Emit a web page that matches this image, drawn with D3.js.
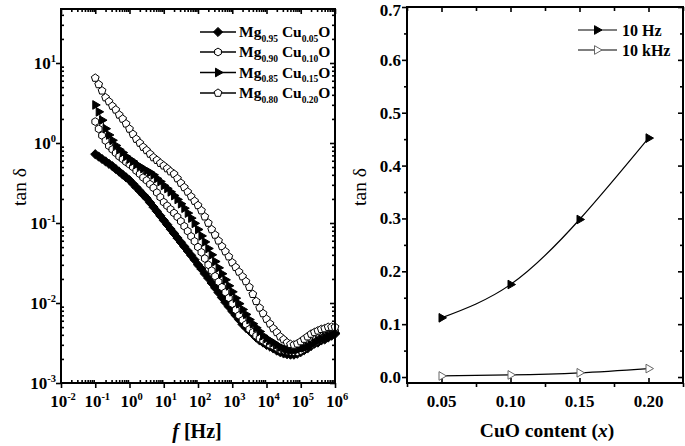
<!DOCTYPE html>
<html><head><meta charset="utf-8">
<script src="https://cdn.jsdelivr.net/npm/d3@7"></script>
<style>body{margin:0;background:#fff}svg{display:block}text{font-family:"Liberation Serif","Times New Roman",serif;fill:#000}</style>
</head><body><svg id="c" width="685" height="446"></svg>
<script>
// ---------- DATA ----------
const freqHz = [0.1,0.126,0.158,0.2,0.251,0.316,0.398,0.501,0.631,0.794,
 1,1.26,1.58,2,2.51,3.16,3.98,5.01,6.31,7.94,
 10,12.6,15.8,20,25.1,31.6,39.8,50.1,63.1,79.4,
 100,126,158,200,251,316,398,501,631,794,
 1e3,1.26e3,1.58e3,2e3,2.51e3,3.16e3,3.98e3,5.01e3,6.31e3,7.94e3,
 1e4,1.26e4,1.58e4,2e4,2.51e4,3.16e4,3.98e4,5.01e4,6.31e4,7.94e4,
 1e5,1.26e5,1.58e5,2e5,2.51e5,3.16e5,3.98e5,5.01e5,6.31e5,7.94e5,
 1e6];
const tanMg095 = [0.724,0.676,0.631,0.589,0.550,0.513,0.473,0.437,0.403,0.372,
 0.343,0.309,0.279,0.251,0.226,0.204,0.180,0.158,0.140,0.123,
 0.108,0.0955,0.084,0.074,0.065,0.0575,0.0507,0.0447,0.0394,0.0347,
 0.030,0.0266,0.0232,0.0204,0.0178,0.0155,0.0135,0.0117,0.0102,0.0090,
 0.0079,0.0070,0.0062,0.0054,0.0049,0.0045,0.0041,0.0037,0.0034,0.0032,
 0.0030,0.00285,0.0027,0.00254,0.00243,0.00234,0.00229,0.00226,0.00226,0.00232,
 0.00243,0.00257,0.0027,0.0029,0.0031,0.0032,0.0034,0.0035,0.0037,0.0039,
 0.0041];
const tanMg090 = [1.85,1.50,1.24,1.07,0.92,0.83,0.75,0.68,0.63,0.58,
 0.54,0.50,0.45,0.41,0.37,0.34,0.305,0.275,0.24,0.21,
 0.182,0.164,0.148,0.133,0.119,0.105,0.091,0.079,0.068,0.059,
 0.050,0.043,0.036,0.030,0.0254,0.0216,0.0184,0.0158,0.0136,0.0116,
 0.0098,0.0082,0.0070,0.0061,0.0054,0.0047,0.0043,0.0039,0.0036,0.0034,
 0.0032,0.0030,0.0029,0.00275,0.0026,0.00257,0.0025,0.00248,0.00245,0.00245,
 0.00254,0.0027,0.0029,0.0030,0.0032,0.0034,0.0036,0.0038,0.0040,0.0042,
 0.0044];
const tanMg085 = [2.99,2.45,1.93,1.51,1.26,1.08,0.93,0.83,0.76,0.68,
 0.63,0.59,0.54,0.51,0.48,0.45,0.43,0.40,0.36,0.33,
 0.295,0.27,0.245,0.22,0.197,0.174,0.153,0.133,0.115,0.099,
 0.083,0.069,0.058,0.048,0.040,0.033,0.0275,0.0232,0.0195,0.0164,
 0.0138,0.0115,0.0098,0.0083,0.0072,0.0062,0.0055,0.0049,0.0044,0.0039,
 0.0036,0.0034,0.0032,0.0030,0.0028,0.0027,0.0026,0.00257,0.00257,0.0026,
 0.0027,0.00275,0.00285,0.0030,0.0032,0.0034,0.00355,0.0037,0.0039,0.0040,
 0.0042];
const tanMg080 = [6.5,5.4,4.5,3.7,3.3,2.9,2.6,2.25,2.0,1.74,
 1.5,1.29,1.12,1.0,0.89,0.81,0.73,0.66,0.61,0.56,
 0.52,0.48,0.44,0.41,0.36,0.316,0.279,0.245,0.214,0.188,
 0.166,0.143,0.120,0.100,0.083,0.071,0.060,0.051,0.044,0.038,
 0.032,0.028,0.0245,0.0214,0.0186,0.0158,0.0129,0.0105,0.0087,0.0074,
 0.0063,0.0055,0.0048,0.0043,0.0038,0.0035,0.0032,0.00305,0.0030,0.0031,
 0.0033,0.00355,0.0038,0.0041,0.0043,0.0045,0.0047,0.0048,0.0050,0.0050,
 0.0050];
const seriesSubs = [["0.95","0.05"],["0.90","0.10"],["0.85","0.15"],["0.80","0.20"]];
const freqTickExps = ["-2","-1","0","1","2","3","4","5","6"];
const tanTickExps = ["-3","-2","-1","0","1"];

const cuoContent = [0.05,0.10,0.15,0.20];
const tan10Hz = [0.112,0.175,0.298,0.452];
const tan10kHz = [0.002,0.004,0.008,0.016];
const rightYTicks = [0,0.1,0.2,0.3,0.4,0.5,0.6,0.7];
const rightXTicks = [0.05,0.10,0.15,0.20];
const rightLegend = ["10 Hz","10 kHz"];

// ---------- HELPERS ----------
const svg = d3.select("#c");
function poly(n, r, rot){
  const pts=[];
  for(let i=0;i<n;i++){const a=rot+i*2*Math.PI/n; pts.push([(r*Math.cos(a)).toFixed(2),(r*Math.sin(a)).toFixed(2)]);}
  return "M"+pts.map(p=>p.join(",")).join("L")+"Z";
}
const markers = [
  {d:poly(4,4.6,-Math.PI/2), fill:"#000", stroke:"#000"},
  {d:poly(6,3.9,-Math.PI/2), fill:"#fff", stroke:"#000"},
  {d:poly(3,5,0), fill:"#000", stroke:"#000"},
  {d:poly(5,4.1,-Math.PI/2), fill:"#fff", stroke:"#000"}
];
function styleAxis(g){
  g.select(".domain").remove();
  g.selectAll("text").remove();
  g.selectAll("line").attr("stroke","#000").attr("stroke-width",1.6);
}
function addAxis(gen, tx, ty){
  svg.append("g").attr("transform",`translate(${tx},${ty})`).call(gen).call(styleAxis);
}

// ---------- LEFT PANEL ----------
const L = {x0:61,x1:335,y0:9,y1:383};
const xL = d3.scaleLog().domain([1e-2,1e6]).range([L.x0,L.x1]);
const yL = d3.scaleLog().domain([1e-3, Math.pow(10,1+54/80)]).range([L.y1,L.y0]);
const xMajor = freqTickExps.map(e=>Math.pow(10,+e));
const yMajor = tanTickExps.map(e=>Math.pow(10,+e));
const xMinor=[], yMinor=[];
for(let d=-2; d<6; d++) for(let k=2;k<10;k++) xMinor.push(k*Math.pow(10,d));
for(let d=-3; d<2; d++) for(let k=2;k<10;k++){const v=k*Math.pow(10,d); if(v<yL.domain()[1]) yMinor.push(v);}

addAxis(d3.axisBottom(xL).tickValues(xMajor).tickSize(5).tickSizeOuter(0), 0, L.y1);
addAxis(d3.axisBottom(xL).tickValues(xMinor).tickSize(-3).tickSizeOuter(0), 0, L.y1);
addAxis(d3.axisTop(xL).tickValues(xMajor).tickSize(-5).tickSizeOuter(0), 0, L.y0);
addAxis(d3.axisTop(xL).tickValues(xMinor).tickSize(-3).tickSizeOuter(0), 0, L.y0);
addAxis(d3.axisLeft(yL).tickValues(yMajor).tickSize(5).tickSizeOuter(0), L.x0, 0);
addAxis(d3.axisLeft(yL).tickValues(yMinor).tickSize(-3).tickSizeOuter(0), L.x0, 0);
addAxis(d3.axisRight(yL).tickValues(yMajor).tickSize(-5).tickSizeOuter(0), L.x1, 0);
addAxis(d3.axisRight(yL).tickValues(yMinor).tickSize(-3).tickSizeOuter(0), L.x1, 0);

const leftSeries = [tanMg095, tanMg090, tanMg085, tanMg080];
const line = d3.line().x((d,i)=>xL(freqHz[i])).y(d=>yL(d));
leftSeries.forEach((vals,si)=>{
  const g = svg.append("g");
  g.append("path").attr("d",line(vals)).attr("fill","none").attr("stroke","#000").attr("stroke-width",1);
  g.selectAll("path.m").data(vals).enter().append("path").attr("class","m")
    .attr("transform",(d,i)=>`translate(${xL(freqHz[i])},${yL(d)})`)
    .attr("d",markers[si].d).attr("fill",markers[si].fill).attr("stroke",markers[si].stroke).attr("stroke-width",1);
});

svg.append("rect").attr("x",L.x0).attr("y",L.y0).attr("width",L.x1-L.x0).attr("height",L.y1-L.y0)
  .attr("fill","none").attr("stroke","#000").attr("stroke-width",2);

// tick labels
freqTickExps.forEach((e,i)=>{
  const t = svg.append("text").attr("x",xL(xMajor[i])+2).attr("y",407).attr("text-anchor","middle")
    .attr("font-weight","bold").attr("font-size",17);
  t.append("tspan").text("10");
  t.append("tspan").attr("dy",-7.5).attr("font-size",10.5).text(e);
});
tanTickExps.forEach((e,i)=>{
  const t = svg.append("text").attr("x",56).attr("y",yL(yMajor[i])+6).attr("text-anchor","end")
    .attr("font-weight","bold").attr("font-size",17);
  t.append("tspan").text("10");
  t.append("tspan").attr("dy",-7.5).attr("font-size",10.5).text(e);
});
// titles
svg.append("text").attr("transform","translate(26,187) rotate(-90)").attr("text-anchor","middle")
  .attr("font-size",19.5).text("tan δ");
{
  const t = svg.append("text").attr("x",197).attr("y",438).attr("text-anchor","middle")
    .attr("font-size",20).attr("font-weight","bold");
  t.append("tspan").attr("font-style","italic").text("f");
  t.append("tspan").text(" [Hz]");
}
// legend
const legY = [32,52,72.5,93];
seriesSubs.forEach((s,i)=>{
  const y = legY[i];
  svg.append("line").attr("x1",200).attr("x2",236).attr("y1",y).attr("y2",y).attr("stroke","#000").attr("stroke-width",1.6);
  svg.append("path").attr("transform",`translate(218,${y})`).attr("d",markers[i].d)
    .attr("fill",markers[i].fill).attr("stroke",markers[i].stroke).attr("stroke-width",1);
  const t = svg.append("text").attr("x",239).attr("y",y+5).attr("font-weight","bold").attr("font-size",15.5);
  t.append("tspan").text("Mg");
  t.append("tspan").attr("dy",4.5).attr("font-size",9.5).text(s[0]);
  t.append("tspan").attr("dy",-4.5).text(" Cu");
  t.append("tspan").attr("dy",4.5).attr("font-size",9.5).text(s[1]);
  t.append("tspan").attr("dy",-4.5).text("O");
});

// ---------- RIGHT PANEL ----------
const R = {x0:407,x1:683,y0:7,y1:383};
const xR = d3.scaleLinear().domain([0.025,0.225]).range([R.x0,R.x1]);
const yR = d3.scaleLinear().domain([-0.0113,0.7]).range([R.y1,R.y0]);
const xRMinor = [0.025,0.075,0.125,0.175,0.225];
const yRMinor = [0.05,0.15,0.25,0.35,0.45,0.55,0.65];

addAxis(d3.axisBottom(xR).tickValues(rightXTicks).tickSize(-5).tickSizeOuter(0), 0, R.y1);
addAxis(d3.axisBottom(xR).tickValues(xRMinor).tickSize(4).tickSizeOuter(0), 0, R.y1);
addAxis(d3.axisTop(xR).tickValues(rightXTicks).tickSize(-5).tickSizeOuter(0), 0, R.y0);
addAxis(d3.axisTop(xR).tickValues(xRMinor).tickSize(-4).tickSizeOuter(0), 0, R.y0);
addAxis(d3.axisLeft(yR).tickValues(rightYTicks).tickSize(5).tickSizeOuter(0), R.x0, 0);
addAxis(d3.axisLeft(yR).tickValues(yRMinor).tickSize(3).tickSizeOuter(0), R.x0, 0);
addAxis(d3.axisRight(yR).tickValues(rightYTicks).tickSize(-5).tickSizeOuter(0), R.x1, 0);
addAxis(d3.axisRight(yR).tickValues(yRMinor).tickSize(-3).tickSizeOuter(0), R.x1, 0);

const rLine = d3.line().curve(d3.curveNatural).x((d,i)=>xR(cuoContent[i])).y(d=>yR(d));
const triR = poly(3,5,0);
[[tan10Hz,"#000","#000"],[tan10kHz,"#fff","#666"]].forEach(([vals,fill,stroke])=>{
  svg.append("path").attr("d",rLine(vals)).attr("fill","none").attr("stroke","#000").attr("stroke-width",1.2);
  svg.selectAll(null).data(vals).enter().append("path")
    .attr("transform",(d,i)=>`translate(${xR(cuoContent[i])},${yR(d)})`)
    .attr("d",triR).attr("fill",fill).attr("stroke",stroke).attr("stroke-width",1);
});

svg.append("rect").attr("x",R.x0).attr("y",R.y0).attr("width",R.x1-R.x0).attr("height",R.y1-R.y0)
  .attr("fill","none").attr("stroke","#000").attr("stroke-width",2);

rightYTicks.forEach(v=>{
  svg.append("text").attr("x",401).attr("y",Math.max(yR(v)+6,15.5)).attr("text-anchor","end")
    .attr("font-weight","bold").attr("font-size",17).text(d3.format(".1f")(v));
});
rightXTicks.forEach(v=>{
  svg.append("text").attr("x",xR(v)).attr("y",407).attr("text-anchor","middle")
    .attr("font-weight","bold").attr("font-size",17).text(d3.format(".2f")(v));
});
svg.append("text").attr("transform","translate(366,187) rotate(-90)").attr("text-anchor","middle")
  .attr("font-size",19.5).text("tan δ");
{
  const t = svg.append("text").attr("x",547).attr("y",437).attr("text-anchor","middle")
    .attr("font-size",19.5).attr("font-weight","bold");
  t.append("tspan").text("CuO content (");
  t.append("tspan").attr("font-style","italic").text("x");
  t.append("tspan").text(")");
}
// right legend
const rLegY = [30,50];
const rLegStyle = [["#000","#000"],["#fff","#666"]];
rightLegend.forEach((lab,i)=>{
  const y = rLegY[i];
  svg.append("line").attr("x1",578).attr("x2",617).attr("y1",y).attr("y2",y).attr("stroke","#000").attr("stroke-width",1.2);
  svg.append("path").attr("transform",`translate(597,${y})`).attr("d",triR)
    .attr("fill",rLegStyle[i][0]).attr("stroke",rLegStyle[i][1]).attr("stroke-width",1);
  svg.append("text").attr("x",622).attr("y",y+5.5).attr("font-weight","bold").attr("font-size",16).text(lab);
});
</script></body></html>
